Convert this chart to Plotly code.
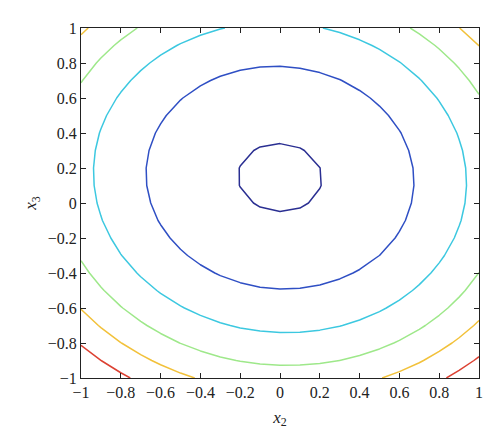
import numpy as np
import plotly.graph_objects as go

# grid of the sampled function (coarse, as in the original)
x2_vals = np.round(np.arange(-1.0, 1.0001, 0.1), 2)
x3_vals = np.round(np.arange(-1.0, 1.0001, 0.1), 2)

# estimated quadratic surface parameters
center_x3 = 0.145
scale_x3 = 1.12
cross_coef = 0.073

levels = [0.045, 0.455, 0.88, 1.29, 1.69, 2.1]
level_colors = ["#2a2f92", "#2f4fc4", "#3cc8e0", "#9ee88a", "#f2c13a", "#dc4132"]

X, Y = np.meshgrid(x2_vals, x3_vals)
U = Y - center_x3
Z = X**2 + scale_x3 * U**2 + cross_coef * X * U

fig = go.Figure()
for lev, col in zip(levels, level_colors):
    fig.add_trace(go.Contour(
        x=x2_vals, y=x3_vals, z=Z,
        autocontour=False,
        contours=dict(start=lev, end=lev, size=1, coloring="lines"),
        colorscale=[[0, col], [1, col]],
        line=dict(width=1.5, smoothing=0),
        showscale=False, hoverinfo="skip",
    ))

font_serif = "Liberation Serif, Times New Roman, serif"
axis_common = dict(
    ticks="inside", ticklen=5, tickwidth=1, tickcolor="#222",
    showline=True, linecolor="#222", linewidth=1, mirror="ticks",
    showgrid=False, zeroline=False,
    tickfont=dict(family=font_serif, size=16, color="#222"),
    dtick=0.2, tick0=-1, range=[-1, 1],
)
fig.update_layout(
    width=492, height=435,
    margin=dict(l=73, r=21, t=16, b=65),
    plot_bgcolor="white", paper_bgcolor="white",
    showlegend=False,
    xaxis=dict(**axis_common,
               title=dict(text="<i>x</i><sub>2</sub>", standoff=10,
                          font=dict(family=font_serif, size=17, color="#222"))),
    yaxis=dict(**axis_common,
               title=dict(text="<i>x</i><sub>3</sub>", standoff=6,
                          font=dict(family=font_serif, size=17, color="#222"))),
)
fig.write_html("out.html")
